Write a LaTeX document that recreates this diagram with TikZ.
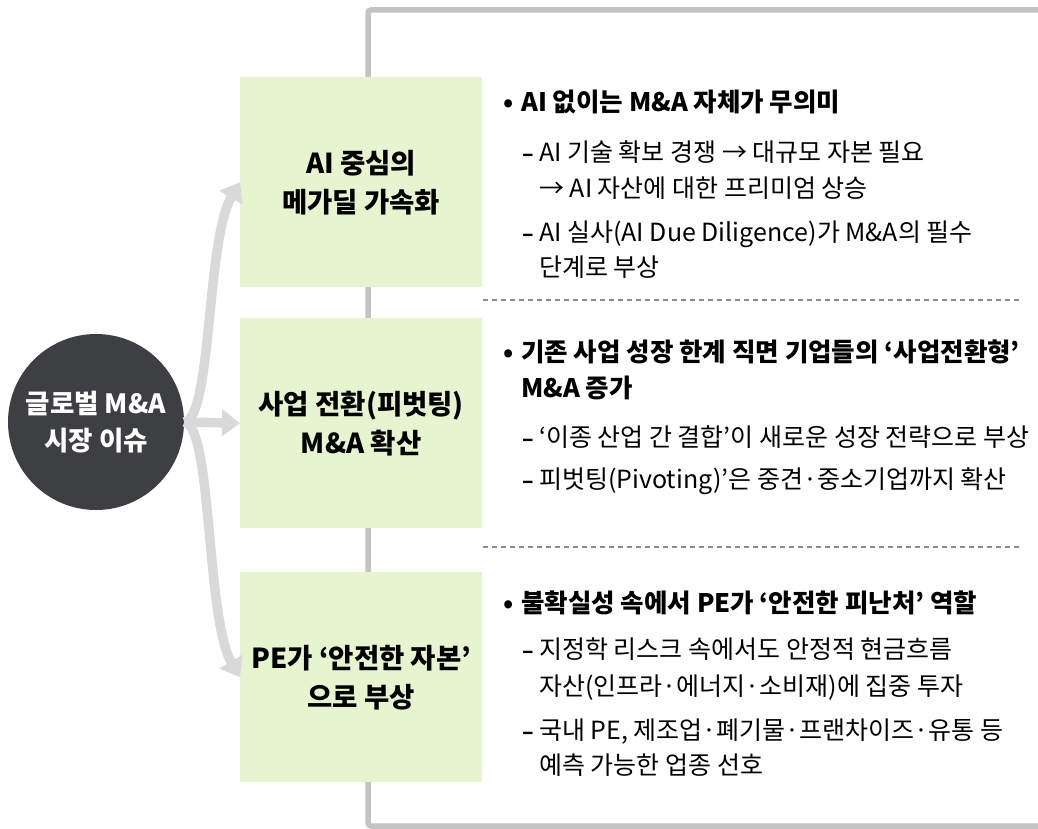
\documentclass[tikz,border=0pt]{standalone}
\usepackage{fontspec}
\setmainfont{Noto Sans CJK KR}
\usetikzlibrary{arrows.meta}
\definecolor{boxgreen}{HTML}{E6F5D0}
\definecolor{hubgray}{HTML}{3E3F43}
\definecolor{framegray}{HTML}{C3C3C3}
\definecolor{arrowgray}{HTML}{D9D9D9}
\definecolor{dashgray}{HTML}{8C8C8C}
\begin{document}
\begin{tikzpicture}[x=1pt,y=-1pt,
  box/.style={fill=boxgreen, minimum width=242pt, minimum height=210pt, inner sep=0pt, align=center,
    font=\fontsize{27.5}{39}\selectfont\bfseries, anchor=north west},
  hubstyle/.style={circle, fill=hubgray, minimum size=176pt, inner sep=0pt, text=white, align=center,
    font=\fontsize{26.5}{37}\selectfont\bfseries},
  arr/.style={draw=arrowgray, line width=9.5pt, -{Triangle[width=26pt,length=18pt]}},
  framel/.style={draw=framegray, line width=5.5pt, rounded corners=3pt},
  sep/.style={draw=dashgray, line width=1.3pt, dash pattern=on 5pt off 4pt},
  bul/.style={anchor=base west, inner sep=0pt, font=\fontsize{25.5}{25}\selectfont\bfseries},
  sub/.style={anchor=base west, inner sep=0pt, font=\fontsize{25}{25}\selectfont},
  dashmark/.style={anchor=base west, inner sep=0pt, font=\fontsize{21}{21}\selectfont\bfseries}
]
\useasboundingbox (0,0) rectangle (1038,829);
% frame
\draw[framel] (1045,10) -- (368,10) -- (368,826) -- (1045,826);
% boxes
\node[box] (b1) at (240,77) {AI 중심의\\메가딜 가속화};
\node[box] (b2) at (240,318) {사업 전환(피벗팅)\\M\&A 확산};
\node[box] (b3) at (240,572) {PE가 ‘안전한 자본’\\으로 부상};
% hub
\node[hubstyle] (hub) at (96,422) {글로벌 M\&A\\시장 이슈};
% arrows
\draw[arr] (hub.east) .. controls +(28,-3) and +(-34,58) .. (b1.west);
\draw[arr] (hub.east) -- (b2.west);
\draw[arr] (hub.east) .. controls +(28,3) and +(-34,-58) .. (b3.west);
% separators
\coordinate (s1a) at (483,300); \coordinate (s1b) at (1022,300);
\coordinate (s2a) at (483,547); \coordinate (s2b) at (1022,547);
\draw[sep] (s1a) -- (s1b);
\draw[sep] (s2a) -- (s2b);
% block 1
\node[bul] (p1) at (503,112) {•};
\node[bul] (t1) at (521,112) {AI 없이는 M\&A 자체가 무의미};
\node[dashmark] (d11) at (522,162) {–};
\node[sub] (t11) at (539,162) {AI 기술 확보 경쟁 → 대규모 자본 필요};
\node[sub] (t12) at (539,197) {→ AI 자산에 대한 프리미엄 상승};
\node[dashmark] (d12) at (522,241) {–};
\node[sub] (t13) at (539,241) {AI 실사(AI Due Diligence)가 M\&A의 필수};
\node[sub] (t14) at (539,276) {단계로 부상};
% block 2
\node[bul] (p2) at (503,361) {•};
\node[bul] (t2) at (521,361) {기존 사업 성장 한계 직면 기업들의 ‘사업전환형’};
\node[bul] (t2b) at (521,397) {M\&A 증가};
\node[dashmark] (d21) at (522,446) {–};
\node[sub] (t21) at (539,446) {‘이종 산업 간 결합’이 새로운 성장 전략으로 부상};
\node[dashmark] (d22) at (522,488) {–};
\node[sub] (t22) at (539,488) {피벗팅(Pivoting)’은 중견·중소기업까지 확산};
% block 3
\node[bul] (p3) at (503,612) {•};
\node[bul] (t3) at (521,612) {불확실성 속에서 PE가 ‘안전한 피난처’ 역할};
\node[dashmark] (d31) at (522,658) {–};
\node[sub] (t31) at (539,658) {지정학 리스크 속에서도 안정적 현금흐름};
\node[sub] (t32) at (539,695) {자산(인프라·에너지·소비재)에 집중 투자};
\node[dashmark] (d32) at (522,739) {–};
\node[sub] (t33) at (539,739) {국내 PE, 제조업·폐기물·프랜차이즈·유통 등};
\node[sub] (t34) at (539,774) {예측 가능한 업종 선호};
\end{tikzpicture}
\end{document}
